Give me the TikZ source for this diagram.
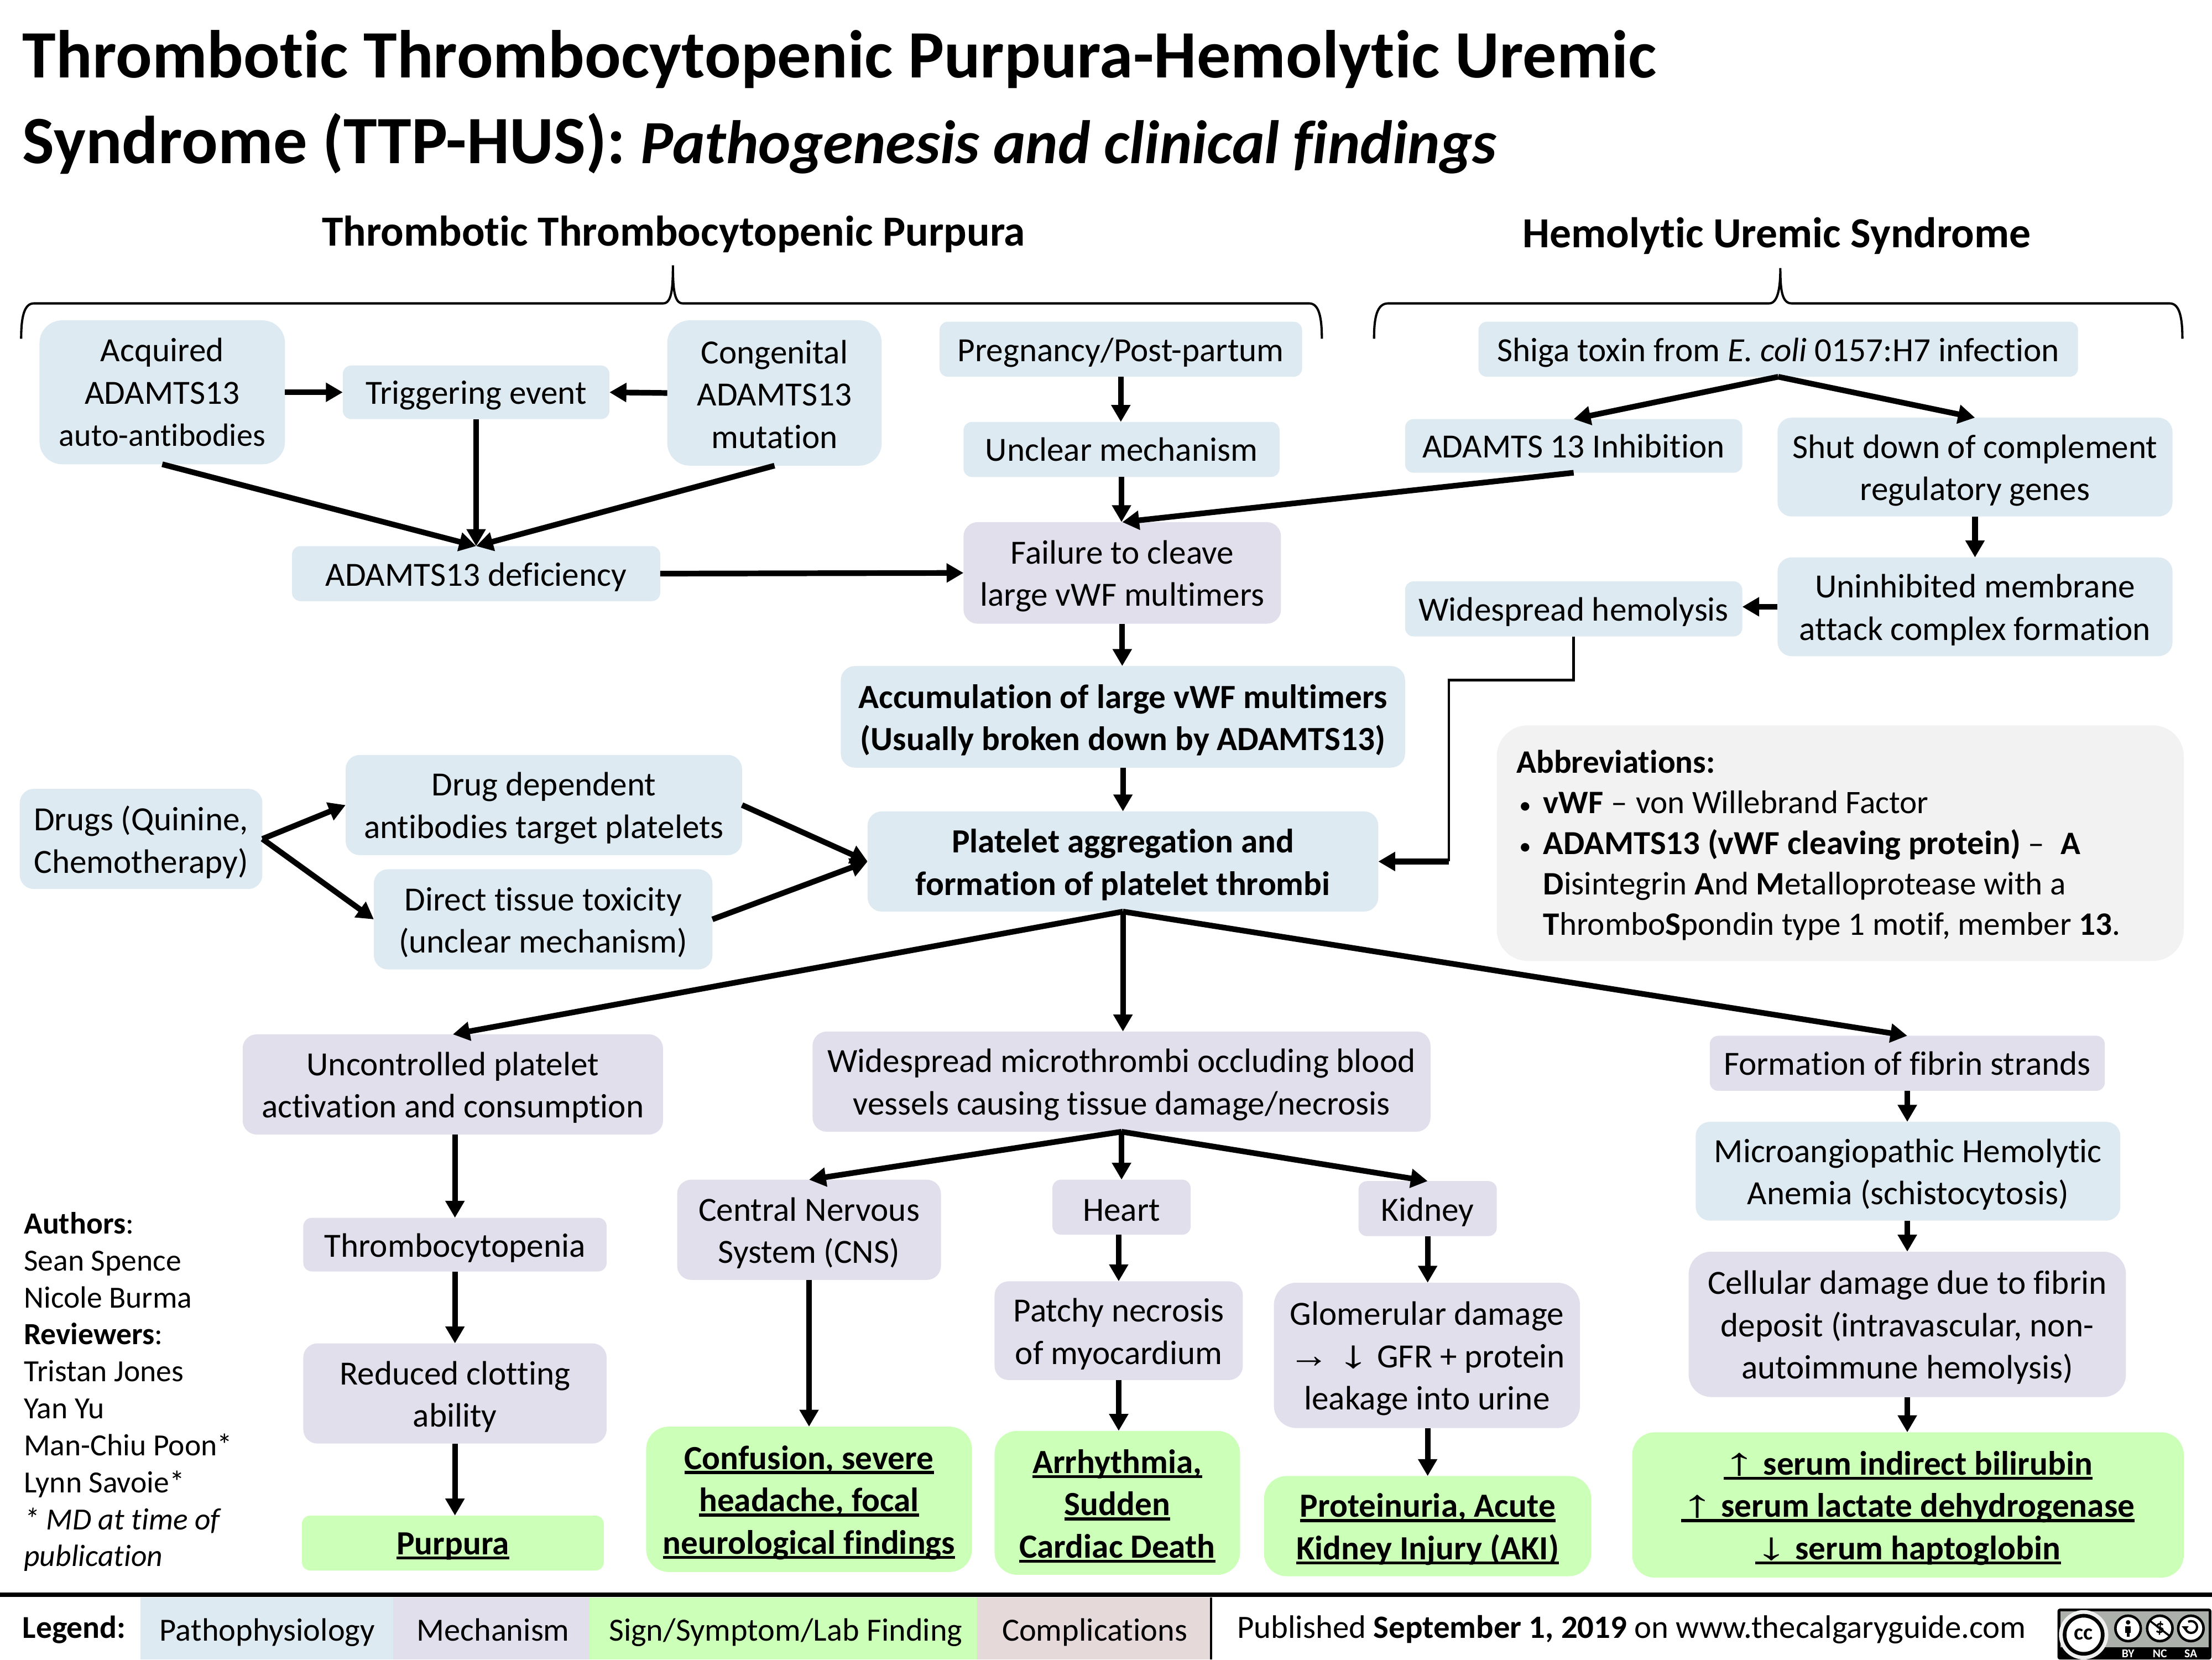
\documentclass[tikz,border=0pt]{standalone}
\usepackage{fontspec}
\setmainfont{Carlito}[Ligatures=NoCommon]
\newfontfamily\symf{Liberation Sans}
\usetikzlibrary{arrows.meta,calc}
\definecolor{pp}{HTML}{DEEAF1}
\definecolor{mech}{HTML}{E1DFEB}
\definecolor{sign}{HTML}{CCFFB8}
\definecolor{comp}{HTML}{E6D9D9}
\definecolor{abbr}{HTML}{F2F2F2}
\definecolor{ccgray}{HTML}{ABB1AA}
\newcommand\ulx[1]{\setbox0=\hbox{#1}\leavevmode\rlap{\rule[-3.5pt]{\wd0}{2.2pt}}\box0\relax}
\newcommand\symb[3]{{\symf\mdseries\fontsize{24}{30}\selectfont\scalebox{#1}[#2]{#3}}}
\tikzset{
  x=1pt,y=-1pt,
  every node/.style={inner sep=0pt,outer sep=0pt,align=center,font=\fontsize{24}{30}\selectfont},
  basebox/.style={rounded corners=6pt},
  midbox/.style={rounded corners=10pt},
  bigbox/.style={rounded corners=16pt},
  ppbox/.style={basebox,fill=pp},
  mechbox/.style={basebox,fill=mech},
  signbox/.style={bigbox,fill=sign},
  link/.style={line width=4pt,-{Triangle[length=12pt,width=13pt]}},
  thinline/.style={line width=1.8pt},
  brace/.style={line width=1.6pt},
  icon/.style={fill=white,draw=black,line width=1.8pt},
  ccword/.style={text=white,anchor=base,font=\fontsize{8.5}{8.5}\selectfont\bfseries}
}
% \bx[box options]{box style}{x0}{y0}{x1}{y1}{name}{text}
\newcommand\tshift{2.3}
\newcommand\bx[8][]{\node[#2,#1,minimum width={#5-#3},minimum height={#6-#4}] (#7) at ({(#3+#5)/2},{(#4+#6)/2}) {};
  \node (#7-t) at ($(#7.center)+(0,\tshift)$) {#8};}
\begin{document}
\begin{tikzpicture}
\useasboundingbox (0,0) rectangle (1568,1176);
% title
\node[anchor=base west,font=\fontsize{48}{50}\selectfont\bfseries] (t1) at (16,55) {Thrombotic Thrombocytopenic Purpura-Hemolytic Uremic};
\node[anchor=base west,font=\fontsize{48}{50}\selectfont\bfseries] (t2) at (16,116) {Syndrome (TTP-HUS): {\fontsize{43.5}{50}\selectfont\textit{Pathogenesis and clinical findings}}};
\node[font=\fontsize{30.4}{32}\selectfont\bfseries] (h1) at (477.5,166) {Thrombotic Thrombocytopenic Purpura};
\node[font=\fontsize{30.4}{32}\selectfont\bfseries] (h2) at (1259.5,167) {Hemolytic Uremic Syndrome};
% braces
\draw[brace] (15,240) .. controls (15,225) and (17,215) .. (24,215) -- (470,215) .. controls (476,215) and (477,205) .. (477,188) .. controls (477,205) and (478,215) .. (484,215) -- (928,215) .. controls (935,215) and (937,225) .. (937,240);
\draw[brace] (974,240) .. controls (974,225) and (976,215) .. (984,215) -- (1254,215) .. controls (1260,215) and (1262,205) .. (1262,190) .. controls (1262,205) and (1263,215) .. (1270,215) -- (1538,215) .. controls (1545,215) and (1547,225) .. (1547,240);
% nodes
\renewcommand\tshift{0}
\bx[bigbox]{ppbox}{28}{227}{202}{329}{acq}{\fontsize{24}{28.7}\selectfont Acquired\\ADAMTS13\\{\fontsize{22.8}{28.7}\selectfont auto-antibodies}}
\renewcommand\tshift{0.8}
\bx[bigbox]{ppbox}{473}{227}{625}{330}{cong}{\fontsize{24}{29}\selectfont Congenital\\ADAMTS13\\mutation}
\renewcommand\tshift{0}
\bx{ppbox}{683}{299}{907}{338}{uncl}{Unclear mechanism}
\bx{ppbox}{996}{297}{1235}{335}{inh}{ADAMTS 13 Inhibition}
\bx{mechbox}{1212}{734}{1492}{773}{fib}{Formation of fibrin strands}
\renewcommand\tshift{2.3}
\bx{ppbox}{243}{259}{432}{297}{trig}{Triggering event}
\bx{ppbox}{207}{387}{468}{426}{def}{ADAMTS13 deficiency}
\bx{ppbox}{666}{228}{923}{267}{preg}{Pregnancy/Post-partum}
\bx[midbox]{mechbox}{683}{370}{908}{442}{fail}{Failure to cleave\\large vWF multimers}
\bx[midbox]{ppbox}{596}{472}{996}{544}{acc}{\bfseries Accumulation of large vWF multimers\\\bfseries (Usually broken down by ADAMTS13)}
\bx[midbox]{ppbox}{615}{575}{977}{646}{plat}{\bfseries Platelet aggregation and\\\bfseries formation of platelet thrombi}
\bx[midbox]{ppbox}{14}{559}{186}{630}{drugs}{Drugs (Quinine,\\Chemotherapy)}
\bx[midbox]{ppbox}{245}{535}{526}{606}{dd}{Drug dependent\\antibodies target platelets}
\bx[midbox]{ppbox}{265}{616}{505}{687}{dt}{Direct tissue toxicity\\(unclear mechanism)}
\bx{ppbox}{1048}{228}{1473}{267}{shiga}{Shiga toxin from \textit{E. coli} 0157:H7 infection}
\bx[midbox]{ppbox}{1260}{296}{1540}{366}{shut}{Shut down of complement\\regulatory genes}
\bx[midbox]{ppbox}{1260}{395}{1540}{465}{unin}{Uninhibited membrane\\attack complex formation}
\bx{ppbox}{996}{412}{1235}{451}{hemo}{Widespread hemolysis}
\bx[rounded corners=22pt]{fill=abbr}{1061}{514}{1548}{681}{abb}{}
\node[anchor=north west,align=left,font=\fontsize{23.2}{28.75}\selectfont] (abbt) at (1075,531.5) {\textbf{Abbreviations:}\\
\makebox[19pt][l]{\hspace{2pt}\fontsize{17}{17}\selectfont •}\textbf{vWF} –\hspace{1pt} von Willebrand Factor\\
\makebox[19pt][l]{\hspace{2pt}\fontsize{17}{17}\selectfont •}{\fontsize{23.8}{28.75}\selectfont\textbf{ADAMTS13 (vWF cleaving protein)}} –\hspace{1pt} \ \textbf{A}\\
\hspace*{19pt}\textbf{D}isintegrin \textbf{A}nd \textbf{M}etalloprotease with a\\
\hspace*{19pt}\textbf{T}hrombo\textbf{S}pondin type 1 motif, member \textbf{13}.};
\bx[midbox]{mechbox}{172}{733}{470}{804}{unc}{Uncontrolled platelet\\activation and consumption}
\bx[midbox]{mechbox}{576}{731}{1014}{802}{micro}{Widespread microthrombi occluding blood\\vessels causing tissue damage/necrosis}
\bx[midbox]{ppbox}{1202}{795}{1503}{865}{maha}{Microangiopathic Hemolytic\\Anemia (schistocytosis)}
\bx[bigbox]{mechbox}{1197}{887}{1507}{990}{cell}{Cellular damage due to fibrin\\deposit (intravascular, non-\\autoimmune hemolysis)}
\bx[bigbox]{signbox}{1157}{1015}{1548}{1118}{ser}{\bfseries\ulx{\symb{1.9}{1.15}{↑} serum indirect bilirubin}\\\bfseries\ulx{\symb{1.9}{1.15}{↑} serum lactate dehydrogenase}\\\bfseries\ulx{\symb{1.9}{1.15}{↓} serum haptoglobin}}
\bx[midbox]{mechbox}{480}{836}{667}{907}{cns}{Central Nervous\\System (CNS)}
\bx{mechbox}{746}{836}{844}{875}{heart}{Heart}
\bx{mechbox}{963}{837}{1061}{876}{kid}{Kidney}
\bx{mechbox}{215}{863}{430}{901}{thr}{Thrombocytopenia}
\bx[midbox]{mechbox}{215}{952}{430}{1023}{red}{Reduced clotting\\ability}
\bx{signbox,basebox}{214}{1074}{428}{1113}{pur}{\bfseries\ulx{Purpura}}
\bx[midbox]{mechbox}{705}{908}{881}{978}{pat}{Patchy necrosis\\of myocardium}
\bx[bigbox]{mechbox}{903}{909}{1120}{1012}{glo}{Glomerular damage\\\symb{1.2}{1.1}{→} \symb{1.9}{1.15}{↓} GFR + protein\\leakage into urine}
\bx{signbox}{458}{1011}{689}{1114}{conf}{\bfseries\ulx{Confusion, severe}\\\bfseries\ulx{headache, focal}\\\bfseries\ulx{neurological findings}}
\bx{signbox}{705}{1014}{879}{1116}{arr}{\bfseries\ulx{Arrhythmia,}\\\bfseries\ulx{Sudden}\\\bfseries\ulx{Cardiac Death}}
\bx{signbox}{896}{1046}{1128}{1117}{prot}{\bfseries\ulx{Proteinuria, Acute}\\\bfseries\ulx{Kidney Injury (AKI)}}
% connectors
\draw[link] (acq.east) -- (trig.west);
\draw[link] (cong.west) -- (trig.east);
\draw[link] (trig.south) -- (def.north);
\draw[link] (acq.south) -- (def.north);
\draw[link] (cong.south) -- (def.north);
\draw[link] (def.east) -- (fail.west);
\draw[link] (preg.south) -- (preg.south |- uncl.north);
\draw[link] (uncl.south) -- (uncl.south |- fail.north);
\draw[link] (inh.south) -- (fail.north);
\draw[link] (fail.south) -- (fail.south |- acc.north);
\draw[link] (acc.south) -- (acc.south |- plat.north);
\draw[link] (drugs.east) -- (dd.west);
\draw[link] (drugs.east) -- (dt.west);
\draw[link] (dd.east) -- (plat.west);
\draw[link] (dt.east) -- (plat.west);
\draw[link] (shiga.south) -- (inh.north);
\draw[link] (shiga.south) -- (shut.north);
\draw[link] (shut.south) -- (shut.south |- unin.north);
\draw[link] (unin.west) -- (hemo.east |- unin.west);
\coordinate (hc) at (1027,482);
\coordinate (hd) at (1027,610.5);
\draw[thinline] (hemo.south) |- (hc) -- (hd);
\draw[link] (hd) -- (plat.east);
\draw[link] (plat.south) -- (unc.north);
\draw[link] (plat.south) -- (plat.south |- micro.north);
\draw[link] (plat.south) -- (fib.north);
\draw[link] (thr.north |- unc.south) -- (thr.north);
\draw[link] (thr.south) -- (thr.south |- red.north);
\draw[link] (red.south) -- (red.south |- pur.north);
\draw[link] (micro.south) -- (cns.north);
\draw[link] (micro.south) -- (micro.south |- heart.north);
\draw[link] (micro.south) -- (kid.north);
\draw[link] (cns.south) -- (cns.south |- conf.north);
\draw[link] (pat.north |- heart.south) -- (pat.north);
\draw[link] (pat.south) -- (pat.south |- arr.north);
\draw[link] (kid.south) -- (kid.south |- glo.north);
\draw[link] (prot.north |- glo.south) -- (prot.north);
\draw[link] (fib.south) -- (fib.south |- maha.north);
\draw[link] (fib.south |- maha.south) -- (fib.south |- cell.north);
\draw[link] (fib.south |- cell.south) -- (fib.south |- ser.north);
% authors
\node[anchor=north west,align=left,font=\fontsize{21.8}{26.2}\selectfont] (auth) at (17,859) {\textbf{Authors}:\\Sean Spence\\Nicole Burma\\\textbf{Reviewers}:\\Tristan Jones\\Yan Yu\\Man-Chiu Poon*\\Lynn Savoie*\\\textit{* MD at time of}\\\textit{publication}};
% legend
\draw[line width=3pt] (0,1130) coordinate (la) -- (1568,1130) coordinate (lb);
\node[anchor=base west,font=\fontsize{22.6}{28}\selectfont\bfseries] (leg) at (16,1161) {Legend:};
\fill[pp] (99.6,1132) rectangle (278.7,1176);
\fill[mech] (278.7,1132) rectangle (418,1176);
\fill[sign] (418,1132) rectangle (692.7,1176);
\fill[comp] (692.7,1132) rectangle (858.6,1176);
\node[anchor=base,font=\fontsize{22.9}{28}\selectfont] (l1) at (189.5,1163) {Pathophysiology};
\node[anchor=base,font=\fontsize{22.9}{28}\selectfont] (l2) at (349.5,1163) {Mechanism};
\node[anchor=base,font=\fontsize{22.9}{28}\selectfont] (l3) at (557,1163) {Sign/Symptom/Lab Finding};
\node[anchor=base,font=\fontsize{22.9}{28}\selectfont] (l4) at (776,1163) {Complications};
\draw[line width=1.6pt] (858.6,1132) -- (858.6,1176);
\node[anchor=base west,font=\fontsize{23.05}{28}\selectfont] (pub) at (877,1161) {Published \textbf{September 1, 2019} on www.thecalgaryguide.com};
% cc badge
\fill[black,rounded corners=1.5pt] (1458.5,1140) rectangle (1567.5,1176);
\fill[ccgray] (1460.5,1142) rectangle (1565.5,1167.5);
\fill[white!80!ccgray] (1477,1158.5) circle (17.5);
\fill[icon,line width=2.6pt] (1477,1158.5) circle (13.5);
\node[font=\fontsize{16}{16}\selectfont\bfseries] (cc) at (1477,1158) {cc};
\foreach \cx in {1508.5,1531,1553}{
  \fill[icon] (\cx,1154) circle (9);
}
\fill (1508.5,1149.7) circle (1.6);
\fill (1506.5,1152.5) rectangle (1510.5,1157);
\fill (1507.5,1157) rectangle (1509.5,1160);
\node[font=\fontsize{13}{13}\selectfont\bfseries] (nc) at (1531,1154) {\$};
\draw[line width=1.4pt] (1524.5,1149) -- (1537.5,1159);
\draw[line width=1.6pt] (1549,1153) arc[start angle=180,end angle=-120,radius=4.2];
\fill (1546.5,1152.5) -- (1551.5,1152.5) -- (1549,1155.5) -- cycle;
\node[ccword] (by) at (1508.5,1174.8) {BY};
\node[ccword] (nc2) at (1531,1174.8) {NC};
\node[ccword] (sa) at (1553,1174.8) {SA};
\end{tikzpicture}
\end{document}
